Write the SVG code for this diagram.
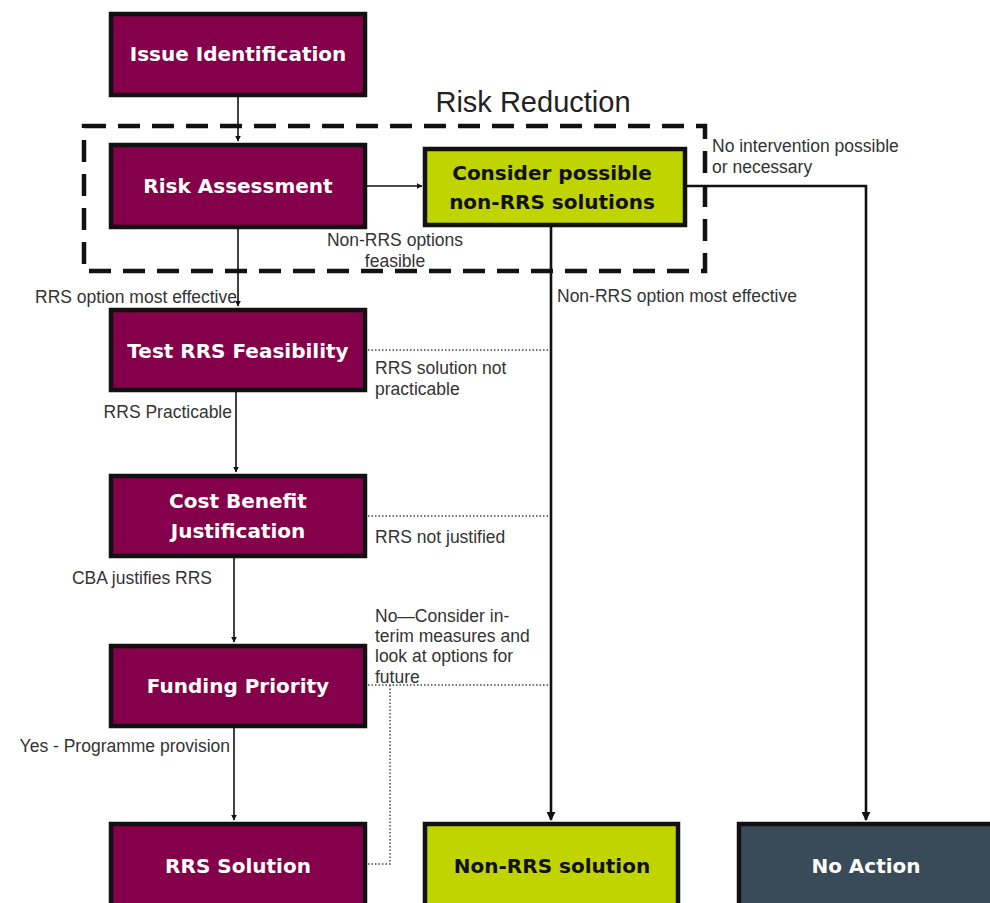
<svg xmlns="http://www.w3.org/2000/svg" width="990" height="903" viewBox="0 0 990 903">
<defs>
<style>
.node rect{stroke:#111;stroke-width:4.5}
.maroon rect{fill:#85004b}
.green rect{fill:#c0d400}
.slate rect{fill:#394a59}
.nt{font-family:"DejaVu Sans","Liberation Sans",Arial,sans-serif;font-weight:bold;font-size:20px;text-anchor:middle}
.light .nt{fill:#fff}
.green .nt{fill:#111}
.lbl{font-family:"Liberation Sans",Arial,sans-serif;font-size:17.5px;fill:#333}
.ln{stroke:#111;stroke-width:1.6;fill:none}
.thick{stroke-width:2.6}
.dot{stroke:#444;stroke-width:1.4;stroke-dasharray:1.5 2;fill:none}
</style>
<marker id="ah" viewBox="0 0 10 10" refX="9" refY="5" markerWidth="6" markerHeight="6" orient="auto" markerUnits="userSpaceOnUse"><path d="M0,0 L10,5 L0,10 z" fill="#111"/></marker>
<marker id="ahb" viewBox="0 0 10 10" refX="9" refY="5" markerWidth="9" markerHeight="9" orient="auto" markerUnits="userSpaceOnUse"><path d="M0,0 L10,5 L0,10 z" fill="#111"/></marker>
</defs>
<rect width="990" height="903" fill="#fff"/>

<g id="risk-reduction">
<rect x="84" y="126" width="621" height="145" fill="none" stroke="#111" stroke-width="4.5" stroke-dasharray="22 12"/>
<text x="533" y="112" font-family="Liberation Sans,Arial,sans-serif" font-size="29" fill="#222" text-anchor="middle">Risk Reduction</text>
</g>

<g id="connectors">
<line class="ln" x1="238" y1="96" x2="238" y2="141" marker-end="url(#ah)"/>
<line class="ln" x1="366" y1="186" x2="422" y2="186" marker-end="url(#ah)"/>
<line class="ln" x1="238" y1="228" x2="238" y2="306" marker-end="url(#ah)"/>
<line class="ln" x1="236" y1="391" x2="236" y2="472" marker-end="url(#ah)"/>
<line class="ln" x1="234" y1="557" x2="234" y2="642" marker-end="url(#ah)"/>
<line class="ln" x1="234" y1="727" x2="234" y2="820" marker-end="url(#ah)"/>
<polyline class="ln thick" points="551,226 551,820" marker-end="url(#ahb)"/>
<polyline class="ln thick" points="686,186 866,186 866,820" marker-end="url(#ahb)"/>
<line class="dot" x1="368" y1="350" x2="550" y2="350"/>
<line class="dot" x1="368" y1="516" x2="550" y2="516"/>
<line class="dot" x1="368" y1="685" x2="550" y2="685"/>
<polyline class="dot" points="390,685 390,864 368,864"/>
<text class="lbl" x="237" y="303" text-anchor="end">RRS option most effective</text>
<text class="lbl" x="395" y="246" text-anchor="middle">Non-RRS options</text>
<text class="lbl" x="395" y="267" text-anchor="middle">feasible</text>
<text class="lbl" x="712" y="152">No intervention possible</text>
<text class="lbl" x="712" y="173">or necessary</text>
<text class="lbl" x="557" y="302">Non-RRS option most effective</text>
<text class="lbl" x="375" y="374">RRS solution not</text>
<text class="lbl" x="375" y="395">practicable</text>
<text class="lbl" x="232" y="418" text-anchor="end">RRS Practicable</text>
<text class="lbl" x="375" y="543">RRS not justified</text>
<text class="lbl" x="212" y="584" text-anchor="end">CBA justifies RRS</text>
<text class="lbl" x="375" y="622">No—Consider in-</text>
<text class="lbl" x="375" y="642">terim measures and</text>
<text class="lbl" x="375" y="662">look at options for</text>
<text class="lbl" x="375" y="683">future</text>
<text class="lbl" x="230" y="752" text-anchor="end">Yes - Programme provision</text>
</g>

<g id="issue-identification" class="node maroon light"><rect x="111" y="14" width="254" height="81"/><text class="nt" x="238" y="61">Issue Identification</text></g>
<g id="risk-assessment" class="node maroon light"><rect x="111" y="145" width="254" height="82"/><text class="nt" x="238" y="193">Risk Assessment</text></g>
<g id="consider-non-rrs" class="node green"><rect x="425" y="149" width="260" height="76"/><text class="nt" x="552" y="180">Consider possible</text><text class="nt" x="552" y="209">non-RRS solutions</text></g>
<g id="test-rrs-feasibility" class="node maroon light"><rect x="111" y="310" width="254" height="80"/><text class="nt" x="238" y="358">Test RRS Feasibility</text></g>
<g id="cost-benefit" class="node maroon light"><rect x="111" y="476" width="254" height="80"/><text class="nt" x="238" y="508">Cost Benefit</text><text class="nt" x="238" y="538">Justification</text></g>
<g id="funding-priority" class="node maroon light"><rect x="111" y="646" width="254" height="80"/><text class="nt" x="238" y="693">Funding Priority</text></g>
<g id="rrs-solution" class="node maroon light"><rect x="111" y="824" width="254" height="84"/><text class="nt" x="238" y="873">RRS Solution</text></g>
<g id="non-rrs-solution" class="node green"><rect x="425" y="824" width="253" height="84"/><text class="nt" x="552" y="873">Non-RRS solution</text></g>
<g id="no-action" class="node slate light"><rect x="739" y="824" width="256" height="84"/><text class="nt" x="866" y="873">No Action</text></g>
</svg>
